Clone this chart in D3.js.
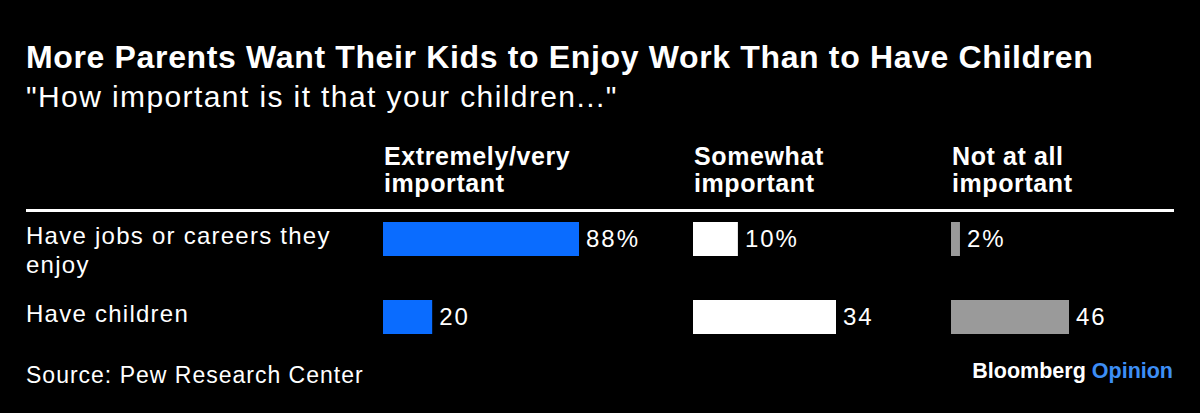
<!DOCTYPE html>
<html><head><meta charset="utf-8">
<script src="https://cdn.jsdelivr.net/npm/d3@7/dist/d3.min.js"></script>
<style>html,body{margin:0;padding:0;background:#000;}svg{display:block;}</style>
</head><body><svg id="chart" width="1200" height="413"></svg>
<script>
const rows = ["Have jobs or careers they enjoy", "Have children"];
const rowLines = [["Have jobs or careers they", "enjoy"], ["Have children"]];
const columns = ["Extremely/very important", "Somewhat important", "Not at all important"];
const columnLines = [["Extremely/very", "important"], ["Somewhat", "important"], ["Not at all", "important"]];
const extremelyVery = [88, 20];
const somewhat = [10, 34];
const notAtAll = [2, 46];
const series = [extremelyVery, somewhat, notAtAll];

const W = 1200, H = 413;
const svg = d3.select("#chart");
svg.append("rect").attr("width", W).attr("height", H).attr("fill", "#000");
const font = "'Liberation Sans', Arial, Helvetica, sans-serif";

svg.append("text").attr("x", 26).attr("y", 68).attr("fill", "#fff")
  .attr("font-family", font).attr("font-weight", "bold").attr("font-size", 32)
  .attr("letter-spacing", 0.65)
  .text("More Parents Want Their Kids to Enjoy Work Than to Have Children");
svg.append("text").attr("x", 26).attr("y", 107).attr("fill", "#fff")
  .attr("font-family", font).attr("font-size", 30).attr("letter-spacing", 1.4)
  .text("\"How important is it that your children...\"");

const colX = [384, 694, 952];
const colColors = ["#0a6cff", "#ffffff", "#9a9a9a"];
const colRanges = [[6, 196], [4, 143], [4, 118]];

columnLines.forEach((lines, i) => {
  const t = svg.append("text").attr("x", colX[i]).attr("y", 165).attr("fill", "#fff")
    .attr("font-family", font).attr("font-weight", "bold").attr("font-size", 25)
    .attr("letter-spacing", 0.6);
  lines.forEach((l, j) => t.append("tspan").attr("x", colX[i]).attr("dy", j ? 27 : 0).text(l));
});

svg.append("rect").attr("x", 26).attr("y", 209).attr("width", 1148).attr("height", 3).attr("fill", "#fff");

const y = d3.scalePoint().domain(rows).range([239, 317]);
const barH = 34;

rows.forEach((r, i) => {
  const t = svg.append("text").attr("x", 26).attr("y", y(r) + 5).attr("fill", "#fff")
    .attr("font-family", font).attr("font-size", 24).attr("letter-spacing", 1.25);
  rowLines[i].forEach((l, j) => t.append("tspan").attr("x", 26).attr("dy", j ? 29 : 0).text(l));
});

series.forEach((vals, c) => {
  const x = d3.scaleLinear().domain([0, d3.max(vals)]).range(colRanges[c]);
  const g = svg.append("g").attr("transform", `translate(${colX[c] - 1},0)`);
  g.selectAll("rect").data(vals).join("rect")
    .attr("x", 0).attr("y", (d, i) => y(rows[i]) - barH / 2)
    .attr("width", d => x(d)).attr("height", barH).attr("fill", colColors[c]);
  g.selectAll("text").data(vals).join("text")
    .attr("x", d => x(d) + 7).attr("y", (d, i) => y(rows[i]) + 8)
    .attr("fill", "#fff").attr("font-family", font).attr("font-size", 24)
    .attr("letter-spacing", 2)
    .text((d, i) => i === 0 ? d + "%" : d);
});

svg.append("text").attr("x", 26).attr("y", 383).attr("fill", "#fff")
  .attr("font-family", font).attr("font-size", 23).attr("letter-spacing", 1.0)
  .text("Source: Pew Research Center");

const logo = svg.append("text").attr("x", 1173).attr("y", 378).attr("text-anchor", "end")
  .attr("font-family", font).attr("font-weight", "bold").attr("font-size", 21.5);
logo.append("tspan").attr("fill", "#fff").text("Bloomberg ");
logo.append("tspan").attr("fill", "#3d8ef5").text("Opinion");
</script></body></html>
